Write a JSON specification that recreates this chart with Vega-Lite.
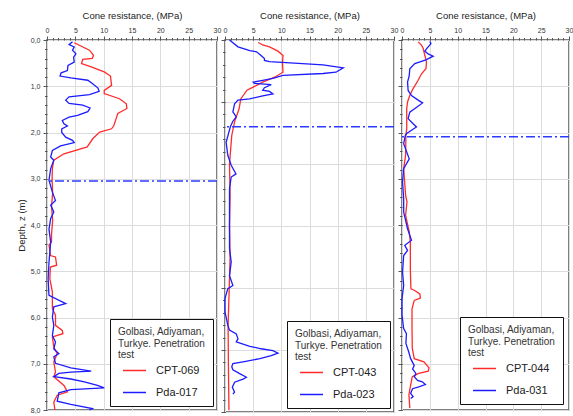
{
  "$schema": "https://vega.github.io/schema/vega-lite/v6.json",
  "background": "white",
  "padding": {"left": 15, "top": 9, "right": 2, "bottom": 2},
  "bounds": "flush",
  "spacing": 8,
  "config": {
    "font": "Liberation Sans",
    "view": {"stroke": "#555", "strokeWidth": 1.5},
    "axis": {
      "labelFontSize": 7,
      "labelColor": "#333",
      "labelFlush": false,
      "labelOverlap": false,
      "labelPadding": 3,
      "tickColor": "#555",
      "tickSize": 4,
      "domain": false,
      "grid": false,
      "gridColor": "#dcdcdc",
      "gridWidth": 1,
      "titleFontWeight": "normal",
      "titleFontSize": 9.5,
      "titleColor": "#222"
    },
    "legend": {
      "orient": "bottom-right",
      "titleFontSize": 10,
      "titleFontWeight": "normal",
      "titleColor": "#333",
      "titleLineHeight": 11.5,
      "titlePadding": -2,
      "labelFontSize": 11,
      "labelColor": "#222",
      "symbolType": "stroke",
      "symbolSize": 529,
      "symbolStrokeWidth": 1.5,
      "symbolOffset": 4,
      "labelOffset": 9,
      "rowPadding": 4,
      "padding": 8,
      "strokeColor": "#111",
      "fillColor": "white",
      "cornerRadius": 0
    }
  },
  "resolve": {"scale": {"color": "independent"}, "legend": {"color": "independent"}},
  "datasets": {
    "p1": [
      {"series": "CPT-069", "depth": 0.06, "q": 4.8}, {"series": "CPT-069", "depth": 0.22, "q": 7.5}, {"series": "CPT-069", "depth": 0.33, "q": 8.2}, {"series": "CPT-069", "depth": 0.40, "q": 8.0}, {"series": "CPT-069", "depth": 0.42, "q": 6.3}, {"series": "CPT-069", "depth": 0.51, "q": 6.1}, {"series": "CPT-069", "depth": 0.58, "q": 7.8}, {"series": "CPT-069", "depth": 0.69, "q": 10.1}, {"series": "CPT-069", "depth": 0.78, "q": 11.2}, {"series": "CPT-069", "depth": 0.98, "q": 11.4}, {"series": "CPT-069", "depth": 1.09, "q": 10.1}, {"series": "CPT-069", "depth": 1.16, "q": 10.1}, {"series": "CPT-069", "depth": 1.27, "q": 12.8}, {"series": "CPT-069", "depth": 1.38, "q": 14.0}, {"series": "CPT-069", "depth": 1.48, "q": 14.1}, {"series": "CPT-069", "depth": 1.59, "q": 12.5}, {"series": "CPT-069", "depth": 1.70, "q": 12.2}, {"series": "CPT-069", "depth": 1.85, "q": 11.8}, {"series": "CPT-069", "depth": 1.92, "q": 11.4}, {"series": "CPT-069", "depth": 1.99, "q": 9.3}, {"series": "CPT-069", "depth": 2.13, "q": 8.1}, {"series": "CPT-069", "depth": 2.31, "q": 7.1}, {"series": "CPT-069", "depth": 2.46, "q": 3.0}, {"series": "CPT-069", "depth": 2.60, "q": 1.2}, {"series": "CPT-069", "depth": 2.78, "q": 0.95}, {"series": "CPT-069", "depth": 3.0, "q": 0.9}, {"series": "CPT-069", "depth": 3.3, "q": 1.0}, {"series": "CPT-069", "depth": 3.6, "q": 0.8}, {"series": "CPT-069", "depth": 3.9, "q": 1.0}, {"series": "CPT-069", "depth": 4.2, "q": 0.8}, {"series": "CPT-069", "depth": 4.37, "q": 0.8}, {"series": "CPT-069", "depth": 4.43, "q": 0.35}, {"series": "CPT-069", "depth": 4.55, "q": 0.5}, {"series": "CPT-069", "depth": 4.66, "q": 0.6}, {"series": "CPT-069", "depth": 4.69, "q": 1.5}, {"series": "CPT-069", "depth": 4.87, "q": 1.7}, {"series": "CPT-069", "depth": 4.91, "q": 0.6}, {"series": "CPT-069", "depth": 5.16, "q": 0.5}, {"series": "CPT-069", "depth": 5.45, "q": 0.95}, {"series": "CPT-069", "depth": 5.66, "q": 0.95}, {"series": "CPT-069", "depth": 5.81, "q": 0.95}, {"series": "CPT-069", "depth": 5.95, "q": 1.5}, {"series": "CPT-069", "depth": 6.17, "q": 1.5}, {"series": "CPT-069", "depth": 6.28, "q": 2.7}, {"series": "CPT-069", "depth": 6.35, "q": 2.8}, {"series": "CPT-069", "depth": 6.42, "q": 0.95}, {"series": "CPT-069", "depth": 6.64, "q": 1.2}, {"series": "CPT-069", "depth": 6.78, "q": 1.8}, {"series": "CPT-069", "depth": 6.96, "q": 1.2}, {"series": "CPT-069", "depth": 7.18, "q": 1.5}, {"series": "CPT-069", "depth": 7.28, "q": 1.2}, {"series": "CPT-069", "depth": 7.47, "q": 3.0}, {"series": "CPT-069", "depth": 7.61, "q": 3.6}, {"series": "CPT-069", "depth": 7.68, "q": 1.8}, {"series": "CPT-069", "depth": 7.83, "q": 1.2}, {"series": "CPT-069", "depth": 8.0, "q": 1.4},
      {"series": "Pda-017", "depth": 0.04, "q": 4.5}, {"series": "Pda-017", "depth": 0.10, "q": 3.9}, {"series": "Pda-017", "depth": 0.15, "q": 4.8}, {"series": "Pda-017", "depth": 0.22, "q": 4.5}, {"series": "Pda-017", "depth": 0.30, "q": 5.1}, {"series": "Pda-017", "depth": 0.37, "q": 4.7}, {"series": "Pda-017", "depth": 0.48, "q": 4.8}, {"series": "Pda-017", "depth": 0.55, "q": 3.7}, {"series": "Pda-017", "depth": 0.66, "q": 3.6}, {"series": "Pda-017", "depth": 0.71, "q": 2.5}, {"series": "Pda-017", "depth": 0.78, "q": 2.3}, {"series": "Pda-017", "depth": 0.82, "q": 4.2}, {"series": "Pda-017", "depth": 0.87, "q": 7.2}, {"series": "Pda-017", "depth": 0.94, "q": 8.0}, {"series": "Pda-017", "depth": 1.04, "q": 9.0}, {"series": "Pda-017", "depth": 1.11, "q": 9.2}, {"series": "Pda-017", "depth": 1.18, "q": 7.5}, {"series": "Pda-017", "depth": 1.23, "q": 3.9}, {"series": "Pda-017", "depth": 1.30, "q": 3.3}, {"series": "Pda-017", "depth": 1.37, "q": 3.9}, {"series": "Pda-017", "depth": 1.41, "q": 6.3}, {"series": "Pda-017", "depth": 1.47, "q": 7.6}, {"series": "Pda-017", "depth": 1.55, "q": 7.2}, {"series": "Pda-017", "depth": 1.63, "q": 5.4}, {"series": "Pda-017", "depth": 1.67, "q": 3.9}, {"series": "Pda-017", "depth": 1.74, "q": 2.7}, {"series": "Pda-017", "depth": 1.81, "q": 3.0}, {"series": "Pda-017", "depth": 1.86, "q": 3.6}, {"series": "Pda-017", "depth": 1.92, "q": 2.6}, {"series": "Pda-017", "depth": 2.00, "q": 2.6}, {"series": "Pda-017", "depth": 2.10, "q": 3.3}, {"series": "Pda-017", "depth": 2.17, "q": 4.5}, {"series": "Pda-017", "depth": 2.22, "q": 4.8}, {"series": "Pda-017", "depth": 2.29, "q": 2.4}, {"series": "Pda-017", "depth": 2.39, "q": 0.95}, {"series": "Pda-017", "depth": 2.53, "q": 0.65}, {"series": "Pda-017", "depth": 2.60, "q": 1.2}, {"series": "Pda-017", "depth": 2.78, "q": 0.65}, {"series": "Pda-017", "depth": 3.03, "q": 0.35}, {"series": "Pda-017", "depth": 3.29, "q": 0.95}, {"series": "Pda-017", "depth": 3.47, "q": 1.5}, {"series": "Pda-017", "depth": 3.57, "q": 0.65}, {"series": "Pda-017", "depth": 3.72, "q": 1.2}, {"series": "Pda-017", "depth": 3.86, "q": 0.65}, {"series": "Pda-017", "depth": 4.09, "q": 0.35}, {"series": "Pda-017", "depth": 4.37, "q": 0.65}, {"series": "Pda-017", "depth": 4.81, "q": 0.35}, {"series": "Pda-017", "depth": 5.16, "q": 0.2}, {"series": "Pda-017", "depth": 5.52, "q": 0.35}, {"series": "Pda-017", "depth": 5.70, "q": 3.3}, {"series": "Pda-017", "depth": 5.77, "q": 1.2}, {"series": "Pda-017", "depth": 5.99, "q": 0.95}, {"series": "Pda-017", "depth": 6.17, "q": 1.2}, {"series": "Pda-017", "depth": 6.39, "q": 0.95}, {"series": "Pda-017", "depth": 6.53, "q": 1.5}, {"series": "Pda-017", "depth": 6.68, "q": 1.2}, {"series": "Pda-017", "depth": 6.78, "q": 2.1}, {"series": "Pda-017", "depth": 6.85, "q": 1.2}, {"series": "Pda-017", "depth": 6.99, "q": 1.5}, {"series": "Pda-017", "depth": 7.09, "q": 4.2}, {"series": "Pda-017", "depth": 7.16, "q": 7.8}, {"series": "Pda-017", "depth": 7.18, "q": 4.2}, {"series": "Pda-017", "depth": 7.21, "q": 2.1}, {"series": "Pda-017", "depth": 7.28, "q": 1.2}, {"series": "Pda-017", "depth": 7.33, "q": 4.2}, {"series": "Pda-017", "depth": 7.39, "q": 6.6}, {"series": "Pda-017", "depth": 7.47, "q": 8.9}, {"series": "Pda-017", "depth": 7.52, "q": 10.1}, {"series": "Pda-017", "depth": 7.56, "q": 4.2}, {"series": "Pda-017", "depth": 7.63, "q": 2.1}, {"series": "Pda-017", "depth": 7.81, "q": 1.8}, {"series": "Pda-017", "depth": 7.88, "q": 4.2}, {"series": "Pda-017", "depth": 7.97, "q": 8.0}, {"series": "Pda-017", "depth": 8.0, "q": 7.5}
    ],
    "p2": [
      {"series": "CPT-043", "depth": 0.04, "q": 5.9}, {"series": "CPT-043", "depth": 0.08, "q": 6.7}, {"series": "CPT-043", "depth": 0.11, "q": 7.9}, {"series": "CPT-043", "depth": 0.18, "q": 9.4}, {"series": "CPT-043", "depth": 0.25, "q": 10.3}, {"series": "CPT-043", "depth": 0.38, "q": 10.2}, {"series": "CPT-043", "depth": 0.52, "q": 10.3}, {"series": "CPT-043", "depth": 0.60, "q": 8.8}, {"series": "CPT-043", "depth": 0.68, "q": 6.7}, {"series": "CPT-043", "depth": 0.76, "q": 5.0}, {"series": "CPT-043", "depth": 0.81, "q": 3.9}, {"series": "CPT-043", "depth": 0.95, "q": 2.8}, {"series": "CPT-043", "depth": 1.11, "q": 2.5}, {"series": "CPT-043", "depth": 1.32, "q": 1.7}, {"series": "CPT-043", "depth": 1.54, "q": 1.2}, {"series": "CPT-043", "depth": 2.0, "q": 0.8}, {"series": "CPT-043", "depth": 2.5, "q": 0.9}, {"series": "CPT-043", "depth": 3.0, "q": 0.8}, {"series": "CPT-043", "depth": 3.5, "q": 0.9}, {"series": "CPT-043", "depth": 4.0, "q": 0.75}, {"series": "CPT-043", "depth": 4.6, "q": 0.55}, {"series": "CPT-043", "depth": 5.2, "q": 0.6}, {"series": "CPT-043", "depth": 5.97, "q": 0.7},
      {"series": "Pda-023", "depth": 0.0, "q": 0.8}, {"series": "Pda-023", "depth": 0.11, "q": 2.3}, {"series": "Pda-023", "depth": 0.17, "q": 4.4}, {"series": "Pda-023", "depth": 0.19, "q": 5.6}, {"series": "Pda-023", "depth": 0.25, "q": 6.4}, {"series": "Pda-023", "depth": 0.30, "q": 7.0}, {"series": "Pda-023", "depth": 0.33, "q": 7.0}, {"series": "Pda-023", "depth": 0.35, "q": 7.9}, {"series": "Pda-023", "depth": 0.40, "q": 17.4}, {"series": "Pda-023", "depth": 0.45, "q": 21.0}, {"series": "Pda-023", "depth": 0.52, "q": 19.7}, {"series": "Pda-023", "depth": 0.54, "q": 17.4}, {"series": "Pda-023", "depth": 0.57, "q": 10.3}, {"series": "Pda-023", "depth": 0.62, "q": 8.5}, {"series": "Pda-023", "depth": 0.65, "q": 6.7}, {"series": "Pda-023", "depth": 0.68, "q": 5.0}, {"series": "Pda-023", "depth": 0.70, "q": 5.2}, {"series": "Pda-023", "depth": 0.72, "q": 8.2}, {"series": "Pda-023", "depth": 0.77, "q": 7.0}, {"series": "Pda-023", "depth": 0.81, "q": 6.7}, {"series": "Pda-023", "depth": 0.83, "q": 7.9}, {"series": "Pda-023", "depth": 0.87, "q": 8.5}, {"series": "Pda-023", "depth": 0.90, "q": 6.7}, {"series": "Pda-023", "depth": 0.95, "q": 4.4}, {"series": "Pda-023", "depth": 0.97, "q": 2.3}, {"series": "Pda-023", "depth": 1.03, "q": 1.7}, {"series": "Pda-023", "depth": 1.16, "q": 1.4}, {"series": "Pda-023", "depth": 1.24, "q": 2.0}, {"series": "Pda-023", "depth": 1.31, "q": 1.4}, {"series": "Pda-023", "depth": 1.40, "q": 0.95}, {"series": "Pda-023", "depth": 1.65, "q": 0.2}, {"series": "Pda-023", "depth": 1.86, "q": 0.5}, {"series": "Pda-023", "depth": 2.02, "q": 1.1}, {"series": "Pda-023", "depth": 2.16, "q": 1.95}, {"series": "Pda-023", "depth": 2.21, "q": 1.1}, {"series": "Pda-023", "depth": 2.40, "q": 0.8}, {"series": "Pda-023", "depth": 2.72, "q": 0.8}, {"series": "Pda-023", "depth": 2.99, "q": 0.8}, {"series": "Pda-023", "depth": 3.36, "q": 0.8}, {"series": "Pda-023", "depth": 3.58, "q": 1.1}, {"series": "Pda-023", "depth": 3.80, "q": 0.8}, {"series": "Pda-023", "depth": 3.96, "q": 1.4}, {"series": "Pda-023", "depth": 4.01, "q": 0.5}, {"series": "Pda-023", "depth": 4.17, "q": 0.0}, {"series": "Pda-023", "depth": 4.39, "q": 0.0}, {"series": "Pda-023", "depth": 4.60, "q": 0.5}, {"series": "Pda-023", "depth": 4.68, "q": 0.8}, {"series": "Pda-023", "depth": 4.74, "q": 2.0}, {"series": "Pda-023", "depth": 4.82, "q": 2.3}, {"series": "Pda-023", "depth": 4.87, "q": 2.0}, {"series": "Pda-023", "depth": 4.94, "q": 4.4}, {"series": "Pda-023", "depth": 4.98, "q": 6.4}, {"series": "Pda-023", "depth": 5.01, "q": 8.5}, {"series": "Pda-023", "depth": 5.05, "q": 9.4}, {"series": "Pda-023", "depth": 5.09, "q": 8.2}, {"series": "Pda-023", "depth": 5.14, "q": 6.2}, {"series": "Pda-023", "depth": 5.19, "q": 3.2}, {"series": "Pda-023", "depth": 5.22, "q": 1.4}, {"series": "Pda-023", "depth": 5.27, "q": 1.2}, {"series": "Pda-023", "depth": 5.32, "q": 1.4}, {"series": "Pda-023", "depth": 5.38, "q": 2.6}, {"series": "Pda-023", "depth": 5.44, "q": 3.8}, {"series": "Pda-023", "depth": 5.47, "q": 3.2}, {"series": "Pda-023", "depth": 5.52, "q": 1.7}, {"series": "Pda-023", "depth": 5.60, "q": 1.3}, {"series": "Pda-023", "depth": 5.68, "q": 1.7}, {"series": "Pda-023", "depth": 5.71, "q": 1.4}
    ],
    "p3": [
      {"series": "CPT-044", "depth": 0.04, "q": 2.9}, {"series": "CPT-044", "depth": 0.11, "q": 3.5}, {"series": "CPT-044", "depth": 0.18, "q": 3.8}, {"series": "CPT-044", "depth": 0.33, "q": 4.1}, {"series": "CPT-044", "depth": 0.48, "q": 4.4}, {"series": "CPT-044", "depth": 0.62, "q": 4.3}, {"series": "CPT-044", "depth": 0.73, "q": 3.5}, {"series": "CPT-044", "depth": 0.87, "q": 2.9}, {"series": "CPT-044", "depth": 1.05, "q": 2.0}, {"series": "CPT-044", "depth": 1.20, "q": 1.4}, {"series": "CPT-044", "depth": 1.34, "q": 1.0}, {"series": "CPT-044", "depth": 1.48, "q": 0.85}, {"series": "CPT-044", "depth": 1.63, "q": 0.85}, {"series": "CPT-044", "depth": 1.92, "q": 0.85}, {"series": "CPT-044", "depth": 2.06, "q": 0.7}, {"series": "CPT-044", "depth": 2.49, "q": 0.65}, {"series": "CPT-044", "depth": 2.78, "q": 0.3}, {"series": "CPT-044", "depth": 3.36, "q": 0.65}, {"series": "CPT-044", "depth": 3.50, "q": 0.9}, {"series": "CPT-044", "depth": 3.79, "q": 0.65}, {"series": "CPT-044", "depth": 4.15, "q": 1.3}, {"series": "CPT-044", "depth": 4.37, "q": 1.5}, {"series": "CPT-044", "depth": 4.95, "q": 1.5}, {"series": "CPT-044", "depth": 5.38, "q": 1.6}, {"series": "CPT-044", "depth": 5.41, "q": 2.2}, {"series": "CPT-044", "depth": 5.49, "q": 3.2}, {"series": "CPT-044", "depth": 5.58, "q": 3.3}, {"series": "CPT-044", "depth": 5.63, "q": 2.2}, {"series": "CPT-044", "depth": 5.81, "q": 1.8}, {"series": "CPT-044", "depth": 6.24, "q": 1.8}, {"series": "CPT-044", "depth": 6.67, "q": 1.85}, {"series": "CPT-044", "depth": 6.89, "q": 2.2}, {"series": "CPT-044", "depth": 6.96, "q": 3.95}, {"series": "CPT-044", "depth": 7.09, "q": 4.85}, {"series": "CPT-044", "depth": 7.16, "q": 4.7}, {"series": "CPT-044", "depth": 7.21, "q": 3.0}, {"series": "CPT-044", "depth": 7.28, "q": 1.85}, {"series": "CPT-044", "depth": 7.46, "q": 1.55}, {"series": "CPT-044", "depth": 7.67, "q": 1.25}, {"series": "CPT-044", "depth": 7.96, "q": 1.4},
      {"series": "Pda-031", "depth": 0.03, "q": 5.0}, {"series": "Pda-031", "depth": 0.08, "q": 5.2}, {"series": "Pda-031", "depth": 0.19, "q": 4.4}, {"series": "Pda-031", "depth": 0.24, "q": 4.1}, {"series": "Pda-031", "depth": 0.30, "q": 4.7}, {"series": "Pda-031", "depth": 0.35, "q": 5.6}, {"series": "Pda-031", "depth": 0.43, "q": 4.3}, {"series": "Pda-031", "depth": 0.51, "q": 2.3}, {"series": "Pda-031", "depth": 0.62, "q": 1.4}, {"series": "Pda-031", "depth": 0.77, "q": 1.3}, {"series": "Pda-031", "depth": 0.91, "q": 1.0}, {"series": "Pda-031", "depth": 1.09, "q": 1.1}, {"series": "Pda-031", "depth": 1.20, "q": 1.7}, {"series": "Pda-031", "depth": 1.30, "q": 2.9}, {"series": "Pda-031", "depth": 1.36, "q": 3.7}, {"series": "Pda-031", "depth": 1.45, "q": 2.7}, {"series": "Pda-031", "depth": 1.56, "q": 1.4}, {"series": "Pda-031", "depth": 1.70, "q": 1.1}, {"series": "Pda-031", "depth": 1.81, "q": 2.0}, {"series": "Pda-031", "depth": 1.88, "q": 2.6}, {"series": "Pda-031", "depth": 1.95, "q": 1.7}, {"series": "Pda-031", "depth": 2.02, "q": 0.85}, {"series": "Pda-031", "depth": 2.06, "q": 0.6}, {"series": "Pda-031", "depth": 2.24, "q": 0.3}, {"series": "Pda-031", "depth": 2.57, "q": 1.3}, {"series": "Pda-031", "depth": 2.78, "q": 0.3}, {"series": "Pda-031", "depth": 3.07, "q": 0.1}, {"series": "Pda-031", "depth": 3.43, "q": 0.3}, {"series": "Pda-031", "depth": 3.72, "q": 0.3}, {"series": "Pda-031", "depth": 4.08, "q": 1.0}, {"series": "Pda-031", "depth": 4.33, "q": 1.7}, {"series": "Pda-031", "depth": 4.44, "q": 0.5}, {"series": "Pda-031", "depth": 4.55, "q": 1.0}, {"series": "Pda-031", "depth": 4.66, "q": 0.3}, {"series": "Pda-031", "depth": 5.02, "q": 0.1}, {"series": "Pda-031", "depth": 5.31, "q": 0.3}, {"series": "Pda-031", "depth": 5.60, "q": 0.0}, {"series": "Pda-031", "depth": 5.95, "q": 0.0}, {"series": "Pda-031", "depth": 6.24, "q": 0.3}, {"series": "Pda-031", "depth": 6.35, "q": 0.8}, {"series": "Pda-031", "depth": 6.56, "q": 0.7}, {"series": "Pda-031", "depth": 6.74, "q": 1.2}, {"series": "Pda-031", "depth": 6.89, "q": 1.55}, {"series": "Pda-031", "depth": 7.04, "q": 2.2}, {"series": "Pda-031", "depth": 7.11, "q": 1.9}, {"series": "Pda-031", "depth": 7.21, "q": 2.5}, {"series": "Pda-031", "depth": 7.28, "q": 2.2}, {"series": "Pda-031", "depth": 7.36, "q": 2.8}, {"series": "Pda-031", "depth": 7.39, "q": 3.65}, {"series": "Pda-031", "depth": 7.45, "q": 4.2}, {"series": "Pda-031", "depth": 7.50, "q": 3.0}, {"series": "Pda-031", "depth": 7.54, "q": 1.9}, {"series": "Pda-031", "depth": 7.64, "q": 1.55}, {"series": "Pda-031", "depth": 7.71, "q": 2.0}, {"series": "Pda-031", "depth": 7.75, "q": 1.55}
    ],
    "r1": [{"depth": 3.05}],
    "r2": [{"depth": 1.40}],
    "r3": [{"depth": 2.09}]
  },
  "hconcat": [
    {
      "width": 170,
      "height": 370,
      "resolve": {"scale": {"x": "independent", "y": "independent"}},
      "layer": [
        {
          "data": {"name": "p1"},
          "mark": {"type": "line", "strokeWidth": 1.3},
          "encoding": {
            "x": {"field": "q", "type": "quantitative", "scale": {"domain": [0, 30], "nice": false, "zero": false},
              "axis": {"orient": "top", "values": [0, 5, 10, 15, 20, 25, 30], "grid": true, "title": "Cone resistance, (MPa)", "titlePadding": 6}},
            "y": {"field": "depth", "type": "quantitative", "scale": {"domain": [0, 8], "reverse": true, "nice": false, "zero": false},
              "axis": {"orient": "left", "values": [0, 1, 2, 3, 4, 5, 6, 7, 8], "grid": true, "title": "Depth, z (m)", "titlePadding": 4,
                "labelExpr": "replace(format(datum.value, '.1f'), '.', ',')"}},
            "color": {"field": "series", "type": "nominal", "scale": {"domain": ["CPT-069", "Pda-017"], "range": ["#ff2b2b", "#1c1cff"]},
              "legend": {"title": ["Golbasi, Adiyaman,", "Turkye. Penetration", "test"], "offset": 4}},
            "order": {"field": "depth", "type": "quantitative"}
          }
        },
        {
          "data": {"name": "r1"},
          "mark": {"type": "rule", "color": "#2a3cff", "strokeDash": [9, 3, 2, 3], "strokeWidth": 1.5},
          "encoding": {"y": {"field": "depth", "type": "quantitative", "scale": {"domain": [0, 8], "reverse": true, "nice": false, "zero": false}, "axis": null}}
        },
        {
          "data": {"name": "r1"},
          "mark": {"type": "point", "opacity": 0},
          "encoding": {
            "x": {"datum": 0, "type": "quantitative", "scale": {"domain": [0, 30], "nice": false, "zero": false},
              "axis": {"orient": "top", "values": [0,1,2,3,4,5,6,7,8,9,10,11,12,13,14,15,16,17,18,19,20,21,22,23,24,25,26,27,28,29,30], "labels": false, "title": null, "tickSize": 2.5}},
            "y": {"field": "depth", "type": "quantitative", "scale": {"domain": [0, 8], "reverse": true, "nice": false, "zero": false},
              "axis": {"orient": "left", "values": [0,0.2,0.4,0.6,0.8,1,1.2,1.4,1.6,1.8,2,2.2,2.4,2.6,2.8,3,3.2,3.4,3.6,3.8,4,4.2,4.4,4.6,4.8,5,5.2,5.4,5.6,5.8,6,6.2,6.4,6.6,6.8,7,7.2,7.4,7.6,7.8,8], "labels": false, "title": null, "tickSize": 2.5}}
          }
        }
      ]
    },
    {
      "width": 169,
      "height": 372,
      "resolve": {"scale": {"x": "independent", "y": "independent"}},
      "layer": [
        {
          "data": {"name": "p2"},
          "mark": {"type": "line", "strokeWidth": 1.3},
          "encoding": {
            "x": {"field": "q", "type": "quantitative", "scale": {"domain": [0, 30], "nice": false, "zero": false},
              "axis": {"orient": "top", "values": [0, 5, 10, 15, 20, 25, 30], "grid": true, "title": "Cone resistance, (MPa)", "titlePadding": 6}},
            "y": {"field": "depth", "type": "quantitative", "scale": {"domain": [0, 6], "reverse": true, "nice": false, "zero": false},
              "axis": {"orient": "left", "values": [0, 1, 2, 3, 4, 5, 6], "grid": true, "title": null, "labels": false}},
            "color": {"field": "series", "type": "nominal", "scale": {"domain": ["CPT-043", "Pda-023"], "range": ["#ff2b2b", "#1c1cff"]},
              "legend": {"title": ["Golbasi, Adiyaman,", "Turkye. Penetration", "test"], "offset": 4}},
            "order": {"field": "depth", "type": "quantitative"}
          }
        },
        {
          "data": {"name": "r2"},
          "mark": {"type": "rule", "color": "#2a3cff", "strokeDash": [9, 3, 2, 3], "strokeWidth": 1.5},
          "encoding": {"y": {"field": "depth", "type": "quantitative", "scale": {"domain": [0, 6], "reverse": true, "nice": false, "zero": false}, "axis": null}}
        },
        {
          "data": {"name": "r2"},
          "mark": {"type": "point", "opacity": 0},
          "encoding": {
            "x": {"datum": 0, "type": "quantitative", "scale": {"domain": [0, 30], "nice": false, "zero": false},
              "axis": {"orient": "top", "values": [0,1,2,3,4,5,6,7,8,9,10,11,12,13,14,15,16,17,18,19,20,21,22,23,24,25,26,27,28,29,30], "labels": false, "title": null, "tickSize": 2.5}},
            "y": {"field": "depth", "type": "quantitative", "scale": {"domain": [0, 6], "reverse": true, "nice": false, "zero": false},
              "axis": {"orient": "left", "values": [0,0.2,0.4,0.6,0.8,1,1.2,1.4,1.6,1.8,2,2.2,2.4,2.6,2.8,3,3.2,3.4,3.6,3.8,4,4.2,4.4,4.6,4.8,5,5.2,5.4,5.6,5.8,6], "labels": false, "title": null, "tickSize": 2.5}}
          }
        }
      ]
    },
    {
      "width": 167,
      "height": 370,
      "resolve": {"scale": {"x": "independent", "y": "independent"}},
      "layer": [
        {
          "data": {"name": "p3"},
          "mark": {"type": "line", "strokeWidth": 1.3},
          "encoding": {
            "x": {"field": "q", "type": "quantitative", "scale": {"domain": [0, 30], "nice": false, "zero": false},
              "axis": {"orient": "top", "values": [0, 5, 10, 15, 20, 25, 30], "grid": true, "title": "Cone resistance, (MPa)", "titlePadding": 6}},
            "y": {"field": "depth", "type": "quantitative", "scale": {"domain": [0, 8], "reverse": true, "nice": false, "zero": false},
              "axis": {"orient": "left", "values": [0, 1, 2, 3, 4, 5, 6, 7, 8], "grid": true, "title": null, "labels": false}},
            "color": {"field": "series", "type": "nominal", "scale": {"domain": ["CPT-044", "Pda-031"], "range": ["#ff2b2b", "#1c1cff"]},
              "legend": {"title": ["Golbasi, Adiyaman,", "Turkye. Penetration", "test"], "offset": 6}},
            "order": {"field": "depth", "type": "quantitative"}
          }
        },
        {
          "data": {"name": "r3"},
          "mark": {"type": "rule", "color": "#2a3cff", "strokeDash": [9, 3, 2, 3], "strokeWidth": 1.5},
          "encoding": {"y": {"field": "depth", "type": "quantitative", "scale": {"domain": [0, 8], "reverse": true, "nice": false, "zero": false}, "axis": null}}
        },
        {
          "data": {"name": "r3"},
          "mark": {"type": "point", "opacity": 0},
          "encoding": {
            "x": {"datum": 0, "type": "quantitative", "scale": {"domain": [0, 30], "nice": false, "zero": false},
              "axis": {"orient": "top", "values": [0,1,2,3,4,5,6,7,8,9,10,11,12,13,14,15,16,17,18,19,20,21,22,23,24,25,26,27,28,29,30], "labels": false, "title": null, "tickSize": 2.5}},
            "y": {"field": "depth", "type": "quantitative", "scale": {"domain": [0, 8], "reverse": true, "nice": false, "zero": false},
              "axis": {"orient": "left", "values": [0,0.2,0.4,0.6,0.8,1,1.2,1.4,1.6,1.8,2,2.2,2.4,2.6,2.8,3,3.2,3.4,3.6,3.8,4,4.2,4.4,4.6,4.8,5,5.2,5.4,5.6,5.8,6,6.2,6.4,6.6,6.8,7,7.2,7.4,7.6,7.8,8], "labels": false, "title": null, "tickSize": 2.5}}
          }
        }
      ]
    }
  ]
}
